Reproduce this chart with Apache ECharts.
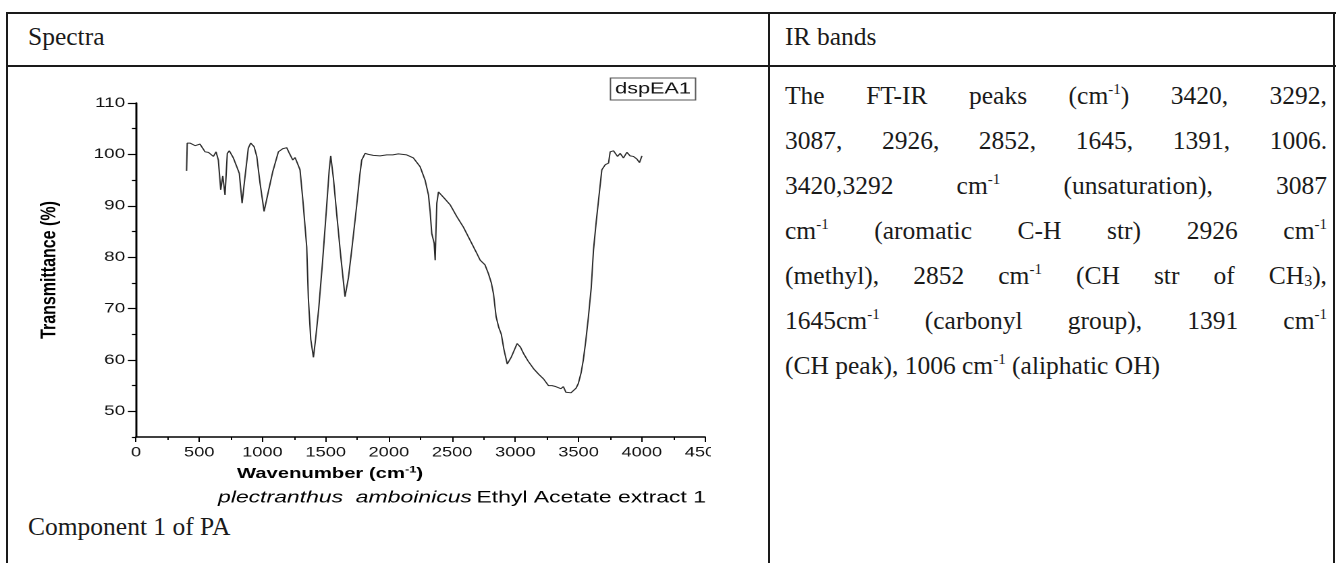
<!DOCTYPE html>
<html>
<head>
<meta charset="utf-8">
<script src="https://cdn.jsdelivr.net/npm/echarts@6/dist/echarts.min.js"></script>
<style>
html,body{margin:0;padding:0;background:#fff;width:1336px;height:563px;overflow:hidden;}
.ln{position:absolute;background:#1a1a1a;z-index:2;}
.serif{font-family:"Liberation Serif","Times New Roman",serif;color:#1a1a1a;}
.hdr{position:absolute;font-size:25.5px;line-height:30px;}
/* the spectrum picture in the source is stretched horizontally; reproduce that stretch */
#chart{position:absolute;left:0;top:0;width:527px;height:563px;z-index:1;transform:scaleX(1.35);transform-origin:0 0;}
#para{position:absolute;left:785px;top:73px;width:542px;font-size:25.5px;line-height:45px;}
#para div{text-align:justify;text-align-last:justify;}
#para div.last{text-align:left;text-align-last:left;}
sup{font-size:15px;line-height:0;vertical-align:0;position:relative;top:-10px;}
sub{font-size:16px;line-height:0;vertical-align:0;position:relative;top:2px;}
</style>
</head>
<body>
<div id="chart"></div>
<div class="ln" style="left:6px;top:12px;width:1330px;height:2px"></div>
<div class="ln" style="left:6px;top:65px;width:1330px;height:2px"></div>
<div class="ln" style="left:6px;top:12px;width:2px;height:551px"></div>
<div class="ln" style="left:768px;top:12px;width:2px;height:551px"></div>
<div class="ln" style="left:1333px;top:12px;width:2px;height:551px"></div>
<div class="hdr serif" style="left:28px;top:22px">Spectra</div>
<div class="hdr serif" style="left:785px;top:22px">IR bands</div>
<div class="hdr serif" style="left:28px;top:512px">Component 1 of PA</div>
<div id="para" class="serif">
<div>The FT-IR peaks (cm<sup>-1</sup>) 3420, 3292,</div>
<div>3087, 2926, 2852, 1645, 1391, 1006.</div>
<div>3420,3292 cm<sup>-1</sup> (unsaturation), 3087</div>
<div>cm<sup>-1</sup> (aromatic C-H str) 2926 cm<sup>-1</sup></div>
<div>(methyl), 2852 cm<sup>-1</sup> (CH str of CH<sub>3</sub>),</div>
<div>1645cm<sup>-1</sup> (carbonyl group), 1391 cm<sup>-1</sup></div>
<div class="last">(CH peak), 1006 cm<sup>-1</sup> (aliphatic OH)</div>
</div>
<script>
// ---- data ----
const wavenumber = [400,405,427,467,506,546,572,612,633,651,670,686,704,722,738,770,797,817,839,854,868,888,907,934,955,981,1013,1047,1082,1126,1160,1192,1213,1240,1258,1276,1297,1320,1340,1350,1363,1382,1403,1420,1445,1475,1505,1528,1540,1561,1588,1620,1653,1680,1706,1745,1770,1785,1812,1838,1877,1930,1983,2030,2075,2141,2194,2247,2286,2313,2326,2339,2358,2366,2372,2379,2392,2437,2484,2537,2590,2642,2690,2722,2760,2787,2810,2827,2848,2869,2889,2910,2936,2967,3014,3040,3066,3100,3144,3185,3223,3262,3290,3321,3340,3360,3380,3400,3419,3440,3458,3480,3498,3520,3537,3557,3578,3600,3618,3640,3658,3684,3711,3737,3750,3776,3808,3829,3855,3882,3908,3934,3961,3982,4001];
const transmittance = [96.8,102.2,102.2,101.7,102.0,100.5,100.4,99.6,100.5,98.9,93.1,95.8,92.1,100.2,100.7,99.3,97.6,96.3,90.5,93.9,94.2,101.2,102.2,101.5,99.6,94.4,88.9,92.8,96.7,100.5,101.1,101.3,100.2,98.9,99.4,98.3,97.0,91.0,85.0,82.0,72.0,64.0,60.5,64.0,70.0,79.0,89.0,97.0,99.7,95.4,88.2,80.0,72.3,76.0,81.4,90.0,96.0,98.9,100.2,100.0,99.8,99.7,99.9,99.9,100.1,99.9,99.3,97.6,95.0,92.1,88.9,84.6,82.7,79.4,85.0,90.5,92.7,91.5,90.2,87.9,85.8,83.3,81.0,79.4,78.5,76.8,75.0,72.9,68.4,66.3,65.0,62.0,59.2,60.5,63.2,62.5,61.2,59.8,58.3,57.2,56.3,55.0,55.0,54.8,54.5,54.4,54.8,53.7,53.5,53.6,53.7,54.5,55.4,57.5,59.9,63.7,68.4,74.0,81.4,87.0,91.1,97.0,98.0,98.3,100.5,100.7,99.6,100.2,99.3,100.4,99.7,99.6,99.1,98.4,99.7];
const yMajorTicks = [50,60,70,80,90,100,110];
const yMinorTicks = [45,55,65,75,85,95,105];
const yAxisTitle = 'Transmittance (%)';
const xAxisTitle = 'Wavenumber (cm';
const xAxisTitleSup = '-1';
const captionItalic = 'plectranthus  amboinicus';
const captionRest = 'Ethyl Acetate extract 1';
const seriesLabel = 'dspEA1';

const S = 1.35; // horizontal stretch of the picture
const chart = echarts.init(document.getElementById('chart'), null, {renderer:'canvas', devicePixelRatio:2});
const sans = '"Liberation Sans", Arial, sans-serif';
const pts = wavenumber.map((w,i)=>[w, transmittance[i]]);
chart.setOption({
  animation:false,
  backgroundColor:'transparent',
  grid:{left:136/S, top:103, width:569/S, height:334, outerBoundsMode:'none', containLabel:false},
  xAxis:{
    type:'value', min:0, max:4500, interval:500,
    axisLine:{show:true, onZero:false, lineStyle:{color:'#000', width:1.5}},
    axisTick:{show:true, length:5, lineStyle:{color:'#000', width:1}},
    minorTick:{show:true, splitNumber:2, length:3, lineStyle:{color:'#000', width:1}},
    splitLine:{show:false},
    axisLabel:{fontFamily:sans, fontSize:13.5, color:'#111', margin:9, showMaxLabel:true,
      formatter:v=>String(v)}
  },
  yAxis:[{
    type:'value', min:45, max:110,
    name:yAxisTitle, nameLocation:'middle', nameGap:56,
    nameTextStyle:{fontFamily:sans, fontSize:16, fontWeight:'bold', color:'#000'},
    axisLine:{show:true, lineStyle:{color:'#000', width:1.5}},
    axisTick:{show:true, length:6, customValues:yMajorTicks, lineStyle:{color:'#000', width:1.2}},
    axisLabel:{customValues:yMajorTicks, fontFamily:sans, fontSize:14, color:'#111', margin:8,
      formatter:v=>String(v)},
    splitLine:{show:false}
  },{
    type:'value', min:45, max:110, position:'left',
    axisLine:{show:false},
    axisTick:{show:true, length:3, customValues:yMinorTicks, lineStyle:{color:'#000', width:1.2}},
    axisLabel:{show:false},
    splitLine:{show:false}
  }],
  series:[{
    type:'line', name:seriesLabel, data:pts, symbol:'none', yAxisIndex:0,
    lineStyle:{color:'#2b2b2b', width:1}
  }],
  graphic:[
    {type:'text', x:330/S, y:474, style:{
      text:'{a|'+xAxisTitle+'}{s|'+xAxisTitleSup+'}{a|)}',
      align:'center', verticalAlign:'middle',
      rich:{a:{fontFamily:sans, fontSize:15, fontWeight:'bold', fill:'#000'},
            s:{fontFamily:sans, fontSize:9.5, fontWeight:'bold', fill:'#000', verticalAlign:'top', padding:[0,0,8,0]}}
    }},
    {type:'text', x:706/S, y:498, style:{
      text:'{i|'+captionItalic+'} {n|'+captionRest+'}',
      align:'right', verticalAlign:'middle',
      rich:{i:{fontFamily:sans, fontSize:17, fontStyle:'italic', fill:'#000'},
            n:{fontFamily:sans, fontSize:17, fill:'#000'}}
    }},
    {type:'text', x:653/S, y:89, style:{
      text:seriesLabel, align:'center', verticalAlign:'middle',
      fontFamily:sans, fontSize:16, fill:'#111',
      borderColor:'#555', borderWidth:1, padding:[3,3,2,3], backgroundColor:'#fff'
    }}
  ]
});
</script>
</body>
</html>
